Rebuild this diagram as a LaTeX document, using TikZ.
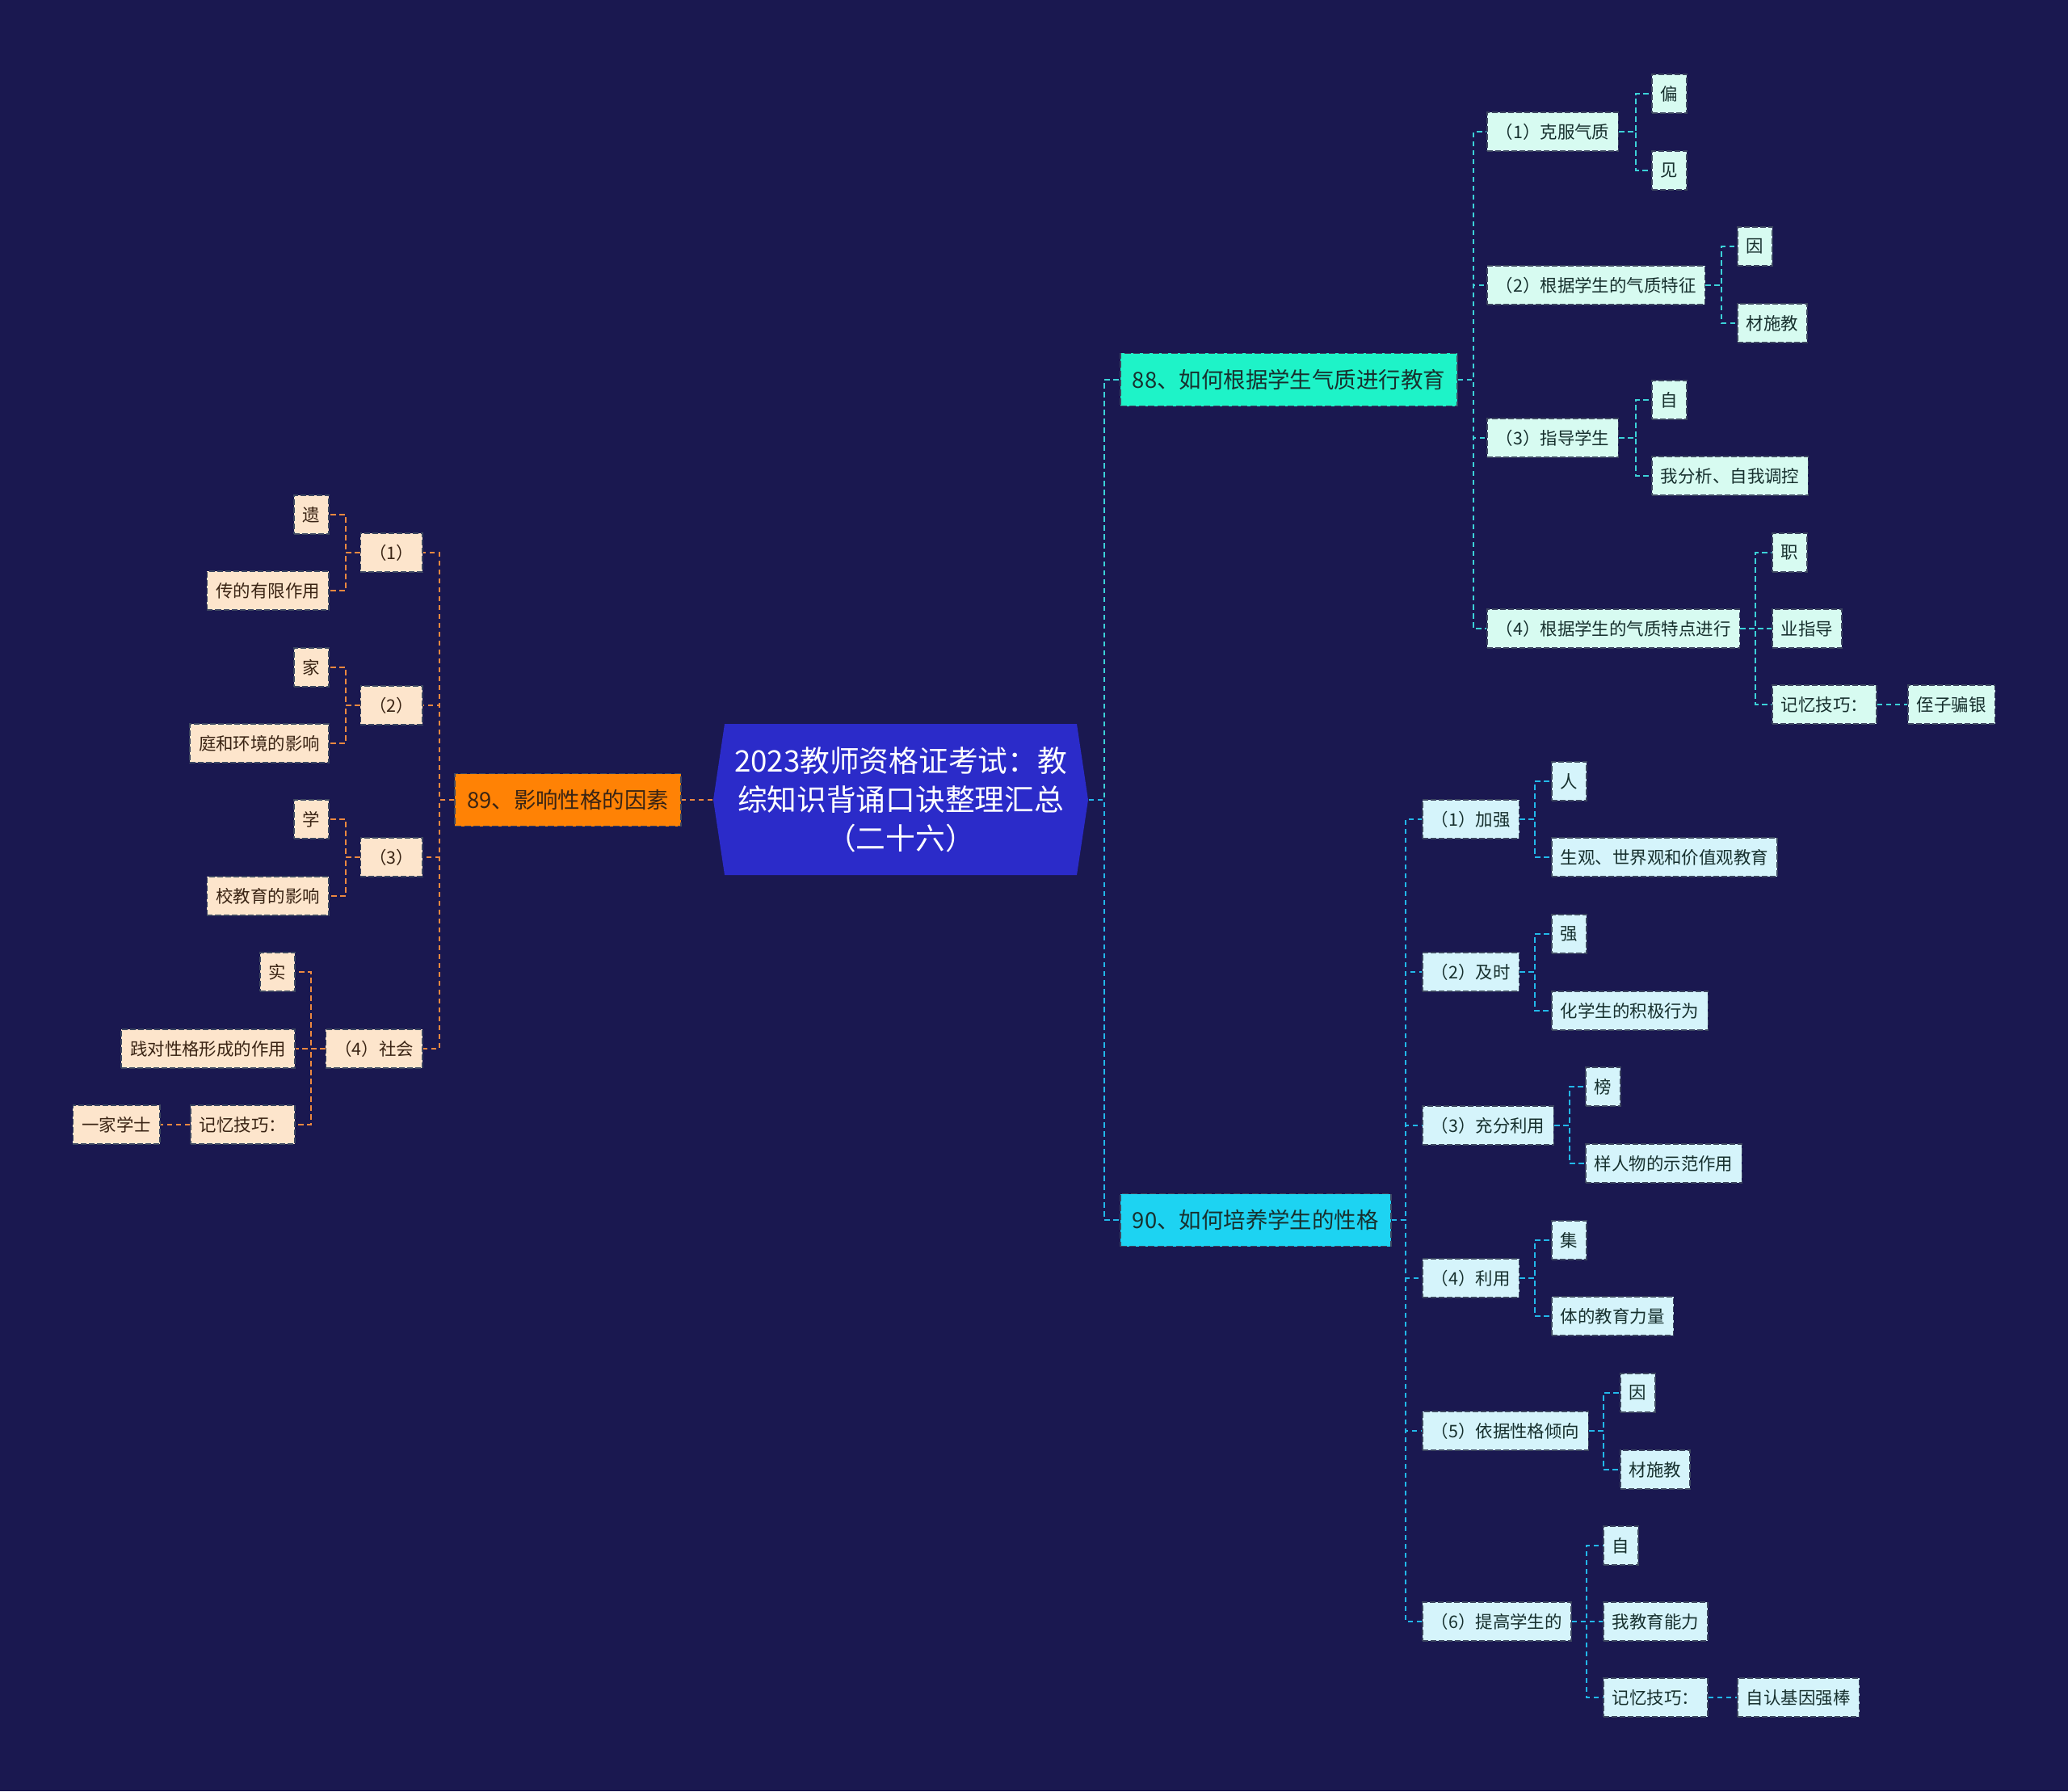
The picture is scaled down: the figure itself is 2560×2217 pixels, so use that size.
\documentclass[tikz,border=0pt]{standalone}
\usepackage{fontspec}
\setmainfont{Noto Sans CJK SC}
\usetikzlibrary{calc}
\definecolor{bg}{HTML}{1A1850}
\definecolor{cmain}{HTML}{2B2BC9}
\definecolor{c88}{HTML}{1EF3C8}
\definecolor{c90}{HTML}{1DD3F2}
\definecolor{c89}{HTML}{FF8205}
\definecolor{leafA}{HTML}{D7FBF1}
\definecolor{leafB}{HTML}{D5F4FB}
\definecolor{leafC}{HTML}{FDE5CC}
\definecolor{txtA}{HTML}{17302E}
\definecolor{txtC}{HTML}{3A2414}
\definecolor{bdr}{HTML}{3C4660}
\definecolor{ln88}{HTML}{3CD2D8}
\definecolor{ln90}{HTML}{22B8EA}
\definecolor{ln89}{HTML}{EC8840}
\newcommand{\rlink}[4]{\draw[#1] (#2.east) -- (#2.east -| #4) |- (#3.west);}
\newcommand{\llink}[4]{\draw[#1] (#2.west) -- (#2.west -| #4) |- (#3.east);}
\begin{document}
\begin{tikzpicture}[x=0.01cm,y=-0.01cm,
  boxbase/.style={rectangle, inner xsep=0.11cm, inner ysep=0pt, minimum height=0.48cm,
    font=\fontsize{6.1}{7}\selectfont, draw=bdr, line width=0.45pt, dash pattern=on 0.07cm off 0.03cm},
  ra/.style={boxbase, fill=leafA, text=txtA, anchor=west},
  rb/.style={boxbase, fill=leafB, text=txtA, anchor=west},
  lc/.style={boxbase, fill=leafC, text=txtC, anchor=east},
  branch/.style={rectangle, inner xsep=0.15cm, inner ysep=0pt, minimum height=0.65cm,
    font=\fontsize{7.8}{9}\selectfont, draw=bdr, line width=0.5pt, dash pattern=on 0.08cm off 0.035cm},
  conn/.style={line width=0.65pt, dash pattern=on 0.065cm off 0.045cm},
  l88/.style={conn, draw=ln88},
  l90/.style={conn, draw=ln90},
  l89/.style={conn, draw=ln89}]
\useasboundingbox[fill=bg] (0,0) rectangle (2560,2217);

% central topic
\fill[cmain] (897,896) -- (1333,896) -- (1347,990) -- (1333,1083) -- (897,1083) -- (883,990) -- cycle;
\node[font=\fontsize{10.44}{13.66}\selectfont, text=white, align=center, minimum width=4.64cm,
  minimum height=1.87cm, inner sep=0pt] (c) at (1115,990)
  {2023教师资格证考试：教\\综知识背诵口诀整理汇总\\（二十六）};

% branches
\node[branch, fill=c88, text=txtA, anchor=west] (n88) at (1386,470) {88、如何根据学生气质进行教育};
\node[branch, fill=c90, text=txtA, anchor=west] (n90) at (1386,1510) {90、如何培养学生的性格};
\node[branch, fill=c89, text=txtC, anchor=east] (n89) at (844,990) {89、影响性格的因素};

% spine coordinates
\coordinate (s0) at (1367,0);
\coordinate (s88) at (1824,0);
\coordinate (s90) at (1740,0);
\coordinate (s89) at (544,0);
\coordinate (sa1) at (2025,0);
\coordinate (sa2) at (2131,0);
\coordinate (sa4) at (2173,0);
\coordinate (sb1) at (1900,0);
\coordinate (sb3) at (1943,0);
\coordinate (sb5) at (1985,0);
\coordinate (sb6) at (1964,0);
\coordinate (sl1) at (428,0);
\coordinate (sl4) at (385,0);

% 88 group
\node[ra] (a1) at (1840,163) {（1）克服气质};
\node[ra] (a2) at (1840,353) {（2）根据学生的气质特征};
\node[ra] (a3) at (1840,542) {（3）指导学生};
\node[ra] (a4) at (1840,778) {（4）根据学生的气质特点进行};
\node[ra] (a11) at (2044,116) {偏};
\node[ra] (a12) at (2044,211) {见};
\node[ra] (a21) at (2150,305) {因};
\node[ra] (a22) at (2150,400) {材施教};
\node[ra] (a31) at (2044,495) {自};
\node[ra] (a32) at (2044,589) {我分析、自我调控};
\node[ra] (a41) at (2193,684) {职};
\node[ra] (a42) at (2193,778) {业指导};
\node[ra] (a43) at (2193,872) {记忆技巧：};
\node[ra] (a431) at (2361,872) {侄子骗银};

% 90 group
\node[rb] (b1) at (1760,1014) {（1）加强};
\node[rb] (b2) at (1760,1203) {（2）及时};
\node[rb] (b3) at (1760,1393) {（3）充分利用};
\node[rb] (b4) at (1760,1582) {（4）利用};
\node[rb] (b5) at (1760,1771) {（5）依据性格倾向};
\node[rb] (b6) at (1760,2007) {（6）提高学生的};
\node[rb] (b11) at (1920,967) {人};
\node[rb] (b12) at (1920,1061) {生观、世界观和价值观教育};
\node[rb] (b21) at (1920,1156) {强};
\node[rb] (b22) at (1920,1251) {化学生的积极行为};
\node[rb] (b31) at (1962,1345) {榜};
\node[rb] (b32) at (1962,1440) {样人物的示范作用};
\node[rb] (b41) at (1920,1535) {集};
\node[rb] (b42) at (1920,1629) {体的教育力量};
\node[rb] (b51) at (2005,1724) {因};
\node[rb] (b52) at (2005,1819) {材施教};
\node[rb] (b61) at (1984,1913) {自};
\node[rb] (b62) at (1984,2007) {我教育能力};
\node[rb] (b63) at (1984,2101) {记忆技巧：};
\node[rb] (b631) at (2150,2101) {自认基因强棒};

% 89 group
\node[lc] (l1) at (524,684) {（1）};
\node[lc] (l2) at (524,873) {（2）};
\node[lc] (l3) at (524,1061) {（3）};
\node[lc] (l4) at (524,1298) {（4）社会};
\node[lc] (l11) at (408,637) {遗};
\node[lc] (l12) at (408,731) {传的有限作用};
\node[lc] (l21) at (408,826) {家};
\node[lc] (l22) at (408,920) {庭和环境的影响};
\node[lc] (l31) at (408,1014) {学};
\node[lc] (l32) at (408,1109) {校教育的影响};
\node[lc] (l41) at (366,1203) {实};
\node[lc] (l42) at (366,1298) {践对性格形成的作用};
\node[lc] (l43) at (366,1392) {记忆技巧：};
\node[lc] (l431) at (199,1392) {一家学士};

% connectors: central
\rlink{l88}{c}{n88}{s0}
\rlink{l90}{c}{n90}{s0}
\draw[l89] (c.west) -- (n89.east);

% 88 group
\rlink{l88}{n88}{a1}{s88}
\rlink{l88}{n88}{a2}{s88}
\rlink{l88}{n88}{a3}{s88}
\rlink{l88}{n88}{a4}{s88}
\rlink{l88}{a1}{a11}{sa1}
\rlink{l88}{a1}{a12}{sa1}
\rlink{l88}{a2}{a21}{sa2}
\rlink{l88}{a2}{a22}{sa2}
\rlink{l88}{a3}{a31}{sa1}
\rlink{l88}{a3}{a32}{sa1}
\rlink{l88}{a4}{a41}{sa4}
\rlink{l88}{a4}{a42}{sa4}
\rlink{l88}{a4}{a43}{sa4}
\draw[l88] (a43.east) -- (a431.west);

% 90 group
\rlink{l90}{n90}{b1}{s90}
\rlink{l90}{n90}{b2}{s90}
\rlink{l90}{n90}{b3}{s90}
\rlink{l90}{n90}{b4}{s90}
\rlink{l90}{n90}{b5}{s90}
\rlink{l90}{n90}{b6}{s90}
\rlink{l90}{b1}{b11}{sb1}
\rlink{l90}{b1}{b12}{sb1}
\rlink{l90}{b2}{b21}{sb1}
\rlink{l90}{b2}{b22}{sb1}
\rlink{l90}{b3}{b31}{sb3}
\rlink{l90}{b3}{b32}{sb3}
\rlink{l90}{b4}{b41}{sb1}
\rlink{l90}{b4}{b42}{sb1}
\rlink{l90}{b5}{b51}{sb5}
\rlink{l90}{b5}{b52}{sb5}
\rlink{l90}{b6}{b61}{sb6}
\rlink{l90}{b6}{b62}{sb6}
\rlink{l90}{b6}{b63}{sb6}
\draw[l90] (b63.east) -- (b631.west);

% 89 group
\llink{l89}{n89}{l1}{s89}
\llink{l89}{n89}{l2}{s89}
\llink{l89}{n89}{l3}{s89}
\llink{l89}{n89}{l4}{s89}
\llink{l89}{l1}{l11}{sl1}
\llink{l89}{l1}{l12}{sl1}
\llink{l89}{l2}{l21}{sl1}
\llink{l89}{l2}{l22}{sl1}
\llink{l89}{l3}{l31}{sl1}
\llink{l89}{l3}{l32}{sl1}
\llink{l89}{l4}{l41}{sl4}
\llink{l89}{l4}{l42}{sl4}
\llink{l89}{l4}{l43}{sl4}
\draw[l89] (l43.west) -- (l431.east);
\end{tikzpicture}
\end{document}
